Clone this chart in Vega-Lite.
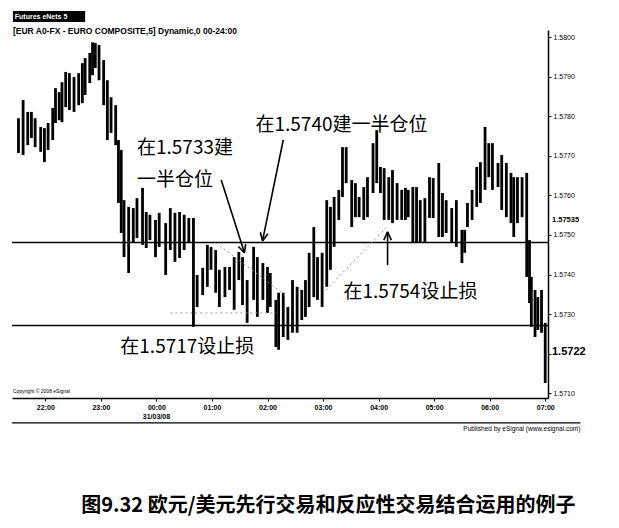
{
 "$schema": "https://vega.github.io/schema/vega-lite/v6.json",
 "width": 536, "height": 368,
 "autosize": "none",
 "padding": {"left": 12, "top": 30, "right": 71, "bottom": 130},
 "background": "white",
 "config": {"view": {"stroke": null}},
 "title": {"text": "图9.32 欧元/美元先行交易和反应性交易结合运用的例子", "orient": "bottom", "anchor": "start", "dx": 70, "offset": 64, "fontSize": 20, "font": "Noto Sans CJK SC", "fontWeight": "bold", "color": "black"},
 "datasets": {
  "bars": [
   {"t":"2008-03-30T21:31","h":1.57795,"l":1.57707},
   {"t":"2008-03-30T21:36","h":1.57841,"l":1.57702},
   {"t":"2008-03-30T21:41","h":1.57811,"l":1.57727},
   {"t":"2008-03-30T21:45","h":1.57811,"l":1.57745},
   {"t":"2008-03-30T21:49","h":1.57795,"l":1.57722},
   {"t":"2008-03-30T21:55","h":1.57773,"l":1.57710},
   {"t":"2008-03-30T21:59","h":1.57770,"l":1.57684},
   {"t":"2008-03-30T22:03","h":1.57783,"l":1.57715},
   {"t":"2008-03-30T22:08","h":1.57821,"l":1.57740},
   {"t":"2008-03-30T22:11","h":1.57871,"l":1.57783},
   {"t":"2008-03-30T22:15","h":1.57861,"l":1.57790},
   {"t":"2008-03-30T22:18","h":1.57886,"l":1.57785},
   {"t":"2008-03-30T22:22","h":1.57912,"l":1.57823},
   {"t":"2008-03-30T22:26","h":1.57909,"l":1.57816},
   {"t":"2008-03-30T22:31","h":1.57899,"l":1.57811},
   {"t":"2008-03-30T22:36","h":1.57909,"l":1.57828},
   {"t":"2008-03-30T22:40","h":1.57934,"l":1.57833},
   {"t":"2008-03-30T22:43","h":1.57947,"l":1.57854},
   {"t":"2008-03-30T22:48","h":1.57960,"l":1.57884},
   {"t":"2008-03-30T22:51","h":1.57987,"l":1.57904},
   {"t":"2008-03-30T22:54","h":1.57985,"l":1.57922},
   {"t":"2008-03-30T22:58","h":1.57980,"l":1.57891},
   {"t":"2008-03-30T23:03","h":1.57942,"l":1.57828},
   {"t":"2008-03-30T23:07","h":1.57891,"l":1.57740},
   {"t":"2008-03-30T23:11","h":1.57848,"l":1.57758},
   {"t":"2008-03-30T23:16","h":1.57828,"l":1.57727},
   {"t":"2008-03-30T23:19","h":1.57740,"l":1.57581},
   {"t":"2008-03-30T23:22","h":1.57715,"l":1.57505},
   {"t":"2008-03-30T23:25","h":1.57588,"l":1.57444},
   {"t":"2008-03-30T23:30","h":1.57571,"l":1.57404},
   {"t":"2008-03-30T23:35","h":1.57568,"l":1.57482},
   {"t":"2008-03-30T23:39","h":1.57593,"l":1.57492},
   {"t":"2008-03-30T23:45","h":1.57619,"l":1.57475},
   {"t":"2008-03-30T23:49","h":1.57558,"l":1.57467},
   {"t":"2008-03-30T23:53","h":1.57551,"l":1.57487},
   {"t":"2008-03-30T23:59","h":1.57538,"l":1.57444},
   {"t":"2008-03-31T00:03","h":1.57556,"l":1.57470},
   {"t":"2008-03-31T00:10","h":1.57530,"l":1.57399},
   {"t":"2008-03-31T00:15","h":1.57568,"l":1.57462},
   {"t":"2008-03-31T00:20","h":1.57556,"l":1.57432},
   {"t":"2008-03-31T00:25","h":1.57558,"l":1.57442},
   {"t":"2008-03-31T00:30","h":1.57551,"l":1.57462},
   {"t":"2008-03-31T00:35","h":1.57543,"l":1.57480},
   {"t":"2008-03-31T00:40","h":1.57543,"l":1.57268},
   {"t":"2008-03-31T00:44","h":1.57399,"l":1.57318},
   {"t":"2008-03-31T00:50","h":1.57417,"l":1.57348},
   {"t":"2008-03-31T00:55","h":1.57475,"l":1.57369},
   {"t":"2008-03-31T00:59","h":1.57470,"l":1.57412},
   {"t":"2008-03-31T01:04","h":1.57462,"l":1.57354},
   {"t":"2008-03-31T01:08","h":1.57412,"l":1.57318},
   {"t":"2008-03-31T01:14","h":1.57419,"l":1.57343},
   {"t":"2008-03-31T01:19","h":1.57419,"l":1.57361},
   {"t":"2008-03-31T01:24","h":1.57444,"l":1.57311},
   {"t":"2008-03-31T01:29","h":1.57457,"l":1.57386},
   {"t":"2008-03-31T01:33","h":1.57444,"l":1.57323},
   {"t":"2008-03-31T01:38","h":1.57386,"l":1.57278},
   {"t":"2008-03-31T01:45","h":1.57470,"l":1.57336},
   {"t":"2008-03-31T01:49","h":1.57444,"l":1.57293},
   {"t":"2008-03-31T01:55","h":1.57429,"l":1.57336},
   {"t":"2008-03-31T02:00","h":1.57419,"l":1.57303},
   {"t":"2008-03-31T02:03","h":1.57404,"l":1.57318},
   {"t":"2008-03-31T02:09","h":1.57336,"l":1.57217},
   {"t":"2008-03-31T02:12","h":1.57354,"l":1.57210},
   {"t":"2008-03-31T02:17","h":1.57354,"l":1.57242},
   {"t":"2008-03-31T02:22","h":1.57318,"l":1.57235},
   {"t":"2008-03-31T02:27","h":1.57386,"l":1.57253},
   {"t":"2008-03-31T02:32","h":1.57369,"l":1.57253},
   {"t":"2008-03-31T02:37","h":1.57361,"l":1.57285},
   {"t":"2008-03-31T02:41","h":1.57386,"l":1.57293},
   {"t":"2008-03-31T02:45","h":1.57455,"l":1.57318},
   {"t":"2008-03-31T02:50","h":1.57520,"l":1.57343},
   {"t":"2008-03-31T02:54","h":1.57444,"l":1.57336},
   {"t":"2008-03-31T02:59","h":1.57455,"l":1.57318},
   {"t":"2008-03-31T03:04","h":1.57588,"l":1.57369},
   {"t":"2008-03-31T03:08","h":1.57571,"l":1.57412},
   {"t":"2008-03-31T03:12","h":1.57596,"l":1.57470},
   {"t":"2008-03-31T03:17","h":1.57614,"l":1.57538},
   {"t":"2008-03-31T03:21","h":1.57722,"l":1.57596},
   {"t":"2008-03-31T03:25","h":1.57722,"l":1.57631},
   {"t":"2008-03-31T03:31","h":1.57639,"l":1.57520},
   {"t":"2008-03-31T03:35","h":1.57631,"l":1.57545},
   {"t":"2008-03-31T03:39","h":1.57596,"l":1.57545},
   {"t":"2008-03-31T03:44","h":1.57621,"l":1.57538},
   {"t":"2008-03-31T03:48","h":1.57646,"l":1.57545},
   {"t":"2008-03-31T03:54","h":1.57732,"l":1.57606},
   {"t":"2008-03-31T03:58","h":1.57765,"l":1.57631},
   {"t":"2008-03-31T04:02","h":1.57672,"l":1.57606},
   {"t":"2008-03-31T04:06","h":1.57669,"l":1.57538},
   {"t":"2008-03-31T04:11","h":1.57646,"l":1.57538},
   {"t":"2008-03-31T04:15","h":1.57664,"l":1.57530},
   {"t":"2008-03-31T04:20","h":1.57631,"l":1.57538},
   {"t":"2008-03-31T04:25","h":1.57614,"l":1.57538},
   {"t":"2008-03-31T04:29","h":1.57619,"l":1.57538},
   {"t":"2008-03-31T04:32","h":1.57614,"l":1.57545},
   {"t":"2008-03-31T04:37","h":1.57621,"l":1.57480},
   {"t":"2008-03-31T04:41","h":1.57621,"l":1.57480},
   {"t":"2008-03-31T04:45","h":1.57588,"l":1.57480},
   {"t":"2008-03-31T04:50","h":1.57593,"l":1.57480},
   {"t":"2008-03-31T04:55","h":1.57646,"l":1.57543},
   {"t":"2008-03-31T04:59","h":1.57644,"l":1.57543},
   {"t":"2008-03-31T05:05","h":1.57682,"l":1.57495},
   {"t":"2008-03-31T05:09","h":1.57606,"l":1.57495},
   {"t":"2008-03-31T05:13","h":1.57588,"l":1.57505},
   {"t":"2008-03-31T05:19","h":1.57568,"l":1.57480},
   {"t":"2008-03-31T05:24","h":1.57588,"l":1.57470},
   {"t":"2008-03-31T05:30","h":1.57513,"l":1.57429},
   {"t":"2008-03-31T05:33","h":1.57513,"l":1.57455},
   {"t":"2008-03-31T05:36","h":1.57581,"l":1.57520},
   {"t":"2008-03-31T05:41","h":1.57614,"l":1.57538},
   {"t":"2008-03-31T05:46","h":1.57672,"l":1.57571},
   {"t":"2008-03-31T05:50","h":1.57684,"l":1.57581},
   {"t":"2008-03-31T05:55","h":1.57773,"l":1.57614},
   {"t":"2008-03-31T05:59","h":1.57732,"l":1.57646},
   {"t":"2008-03-31T06:03","h":1.57732,"l":1.57614},
   {"t":"2008-03-31T06:09","h":1.57682,"l":1.57621},
   {"t":"2008-03-31T06:13","h":1.57702,"l":1.57563},
   {"t":"2008-03-31T06:18","h":1.57682,"l":1.57545},
   {"t":"2008-03-31T06:23","h":1.57657,"l":1.57530},
   {"t":"2008-03-31T06:26","h":1.57646,"l":1.57495},
   {"t":"2008-03-31T06:30","h":1.57646,"l":1.57530},
   {"t":"2008-03-31T06:35","h":1.57646,"l":1.57545},
   {"t":"2008-03-31T06:40","h":1.57657,"l":1.57394},
   {"t":"2008-03-31T06:43","h":1.57487,"l":1.57328},
   {"t":"2008-03-31T06:45","h":1.57394,"l":1.57268},
   {"t":"2008-03-31T06:49","h":1.57361,"l":1.57242},
   {"t":"2008-03-31T06:52","h":1.57343,"l":1.57260},
   {"t":"2008-03-31T06:56","h":1.57361,"l":1.57253},
   {"t":"2008-03-31T07:00","h":1.57278,"l":1.57126}
  ],
  "levels": [{"p": 1.57481}, {"p": 1.57271}],
  "dotted": [
   {"t":"2008-03-31T01:04","t2":"2008-03-31T02:19","p":1.57480,"p2":1.57348},
   {"t":"2008-03-31T03:03","t2":"2008-03-31T04:08","p":1.57361,"p2":1.57518},
   {"t":"2008-03-31T00:15","t2":"2008-03-31T02:09","p":1.57303,"p2":1.57303}
  ],
  "arrows": [
   {"t":"2008-03-31T01:10:00","t2":"2008-03-31T01:35:06","p":1.57639,"p2":1.57455},
   {"t":"2008-03-31T01:28:30","t2":"2008-03-31T01:35:06","p":1.57471,"p2":1.57455},
   {"t":"2008-03-31T01:36:24","t2":"2008-03-31T01:35:06","p":1.57477,"p2":1.57455},
   {"t":"2008-03-31T02:17:00","t2":"2008-03-31T01:54:36","p":1.57740,"p2":1.57485},
   {"t":"2008-03-31T01:52:18","t2":"2008-03-31T01:54:36","p":1.57507,"p2":1.57485},
   {"t":"2008-03-31T02:00:24","t2":"2008-03-31T01:54:36","p":1.57503,"p2":1.57485},
   {"t":"2008-03-31T04:09:42","t2":"2008-03-31T04:09:42","p":1.57424,"p2":1.57508},
   {"t":"2008-03-31T04:13:48","t2":"2008-03-31T04:09:42","p":1.57487,"p2":1.57508},
   {"t":"2008-03-31T04:05:36","t2":"2008-03-31T04:09:42","p":1.57487,"p2":1.57508}
  ],
  "notes": [
   {"t":"2008-03-30T23:39","p":1.57720,"text":"在1.5733建"},
   {"t":"2008-03-30T23:39","p":1.57639,"text":"一半仓位"},
   {"t":"2008-03-31T01:47","p":1.57778,"text":"在1.5740建一半仓位"},
   {"t":"2008-03-31T03:22","p":1.57356,"text":"在1.5754设止损"},
   {"t":"2008-03-30T23:21","p":1.57217,"text":"在1.5717设止损"}
  ],
  "tabbox": [{"t":"2008-03-30T21:25","t2":"2008-03-30T22:43","p":1.58038,"p2":1.58066}],
  "smalltexts": [
   {"t":"2008-03-30T21:25","p":1.58015,"text":"[EUR A0-FX - EURO COMPOSITE,5] Dynamic,0 00-24:00"}
  ],
  "datetext": [{"t":"2008-03-31T00:00","p":1.57040,"text":"31/03/08"}],
  "tabtext": [{"t":"2008-03-30T21:27","p":1.58052,"text":"Futures eNets 5"}],
  "copyrighttext": [{"t":"2008-03-30T21:25","p":1.57106,"text":"Copyright © 2008 eSignal"}],
  "bottomline": [{"t":"2008-03-30T21:24","t2":"2008-03-31T07:38","p":1.57025}],
  "publisher": [{"t":"2008-03-31T07:38","p":1.57018,"text":"Published by eSignal (www.esignal.com)"}],
  "pricetag1": [{"t":"2008-03-31T07:03","p":1.57538,"text":"1.57535"}],
  "pricetag2": [{"t":"2008-03-31T07:03","p":1.57205,"text":"1.5722"}]
 },
 "layer": [
  {
   "data": {"name": "bars"},
   "mark": {"type": "rule", "color": "black", "strokeWidth": 2.8},
   "encoding": {
    "x": {"field": "t", "type": "temporal", "title": null,
     "scale": {"domain": [{"year": 2008, "month": 3, "date": 30, "hours": 21, "minutes": 24}, {"year": 2008, "month": 3, "date": 31, "hours": 7, "minutes": 3}]},
     "axis": {"tickCount": 10, "format": "%H:%M", "grid": false, "domainColor": "black", "domainWidth": 1.5, "tickColor": "black", "tickSize": 3, "labelFontSize": 7, "labelFontWeight": "bold", "labelColor": "black", "labelFont": "Liberation Sans", "labelPadding": 2}},
    "y": {"field": "l", "type": "quantitative", "title": null,
     "scale": {"domain": [1.57088, 1.58018], "zero": false, "nice": false},
     "axis": {"orient": "right", "tickCount": 10, "format": ".4f", "labelExpr": "abs(datum.value - 1.572) < 0.00001 ? '' : datum.label", "grid": false, "domainColor": "black", "domainWidth": 1.5, "tickColor": "black", "tickSize": 3, "labelFontSize": 7, "labelColor": "black", "labelFont": "Liberation Sans", "labelPadding": 2}},
    "y2": {"field": "h"}
   }
  },
  {
   "data": {"name": "levels"},
   "mark": {"type": "rule", "color": "black", "strokeWidth": 1.5},
   "encoding": {"y": {"field": "p", "type": "quantitative", "title": null}}
  },
  {
   "data": {"name": "dotted"},
   "mark": {"type": "rule", "color": "#999999", "strokeWidth": 1, "strokeDash": [2, 3]},
   "encoding": {
    "x": {"field": "t", "type": "temporal", "title": null}, "x2": {"field": "t2"},
    "y": {"field": "p", "type": "quantitative", "title": null}, "y2": {"field": "p2"}
   }
  },
  {
   "data": {"name": "arrows"},
   "mark": {"type": "rule", "color": "black", "strokeWidth": 1.6},
   "encoding": {
    "x": {"field": "t", "type": "temporal", "title": null}, "x2": {"field": "t2"},
    "y": {"field": "p", "type": "quantitative", "title": null}, "y2": {"field": "p2"}
   }
  },
  {
   "data": {"name": "notes"},
   "mark": {"type": "text", "align": "left", "baseline": "middle", "font": "Noto Sans CJK SC", "fontSize": 19, "color": "black"},
   "encoding": {"x": {"field": "t", "type": "temporal", "title": null}, "y": {"field": "p", "type": "quantitative", "title": null}, "text": {"field": "text"}}
  },
  {
   "data": {"name": "tabbox"},
   "mark": {"type": "rect", "color": "black"},
   "encoding": {
    "x": {"field": "t", "type": "temporal", "title": null}, "x2": {"field": "t2"},
    "y": {"field": "p", "type": "quantitative", "title": null}, "y2": {"field": "p2"}
   }
  },
  {
   "data": {"name": "tabtext"},
   "mark": {"type": "text", "align": "left", "baseline": "middle", "font": "Liberation Sans", "fontSize": 7, "fontWeight": "bold", "color": "white"},
   "encoding": {"x": {"field": "t", "type": "temporal", "title": null}, "y": {"field": "p", "type": "quantitative", "title": null}, "text": {"field": "text"}}
  },
  {
   "data": {"name": "smalltexts"},
   "mark": {"type": "text", "align": "left", "baseline": "middle", "font": "Liberation Sans", "fontSize": 8.5, "fontWeight": "bold", "color": "black"},
   "encoding": {"x": {"field": "t", "type": "temporal", "title": null}, "y": {"field": "p", "type": "quantitative", "title": null}, "text": {"field": "text"}}
  },
  {
   "data": {"name": "datetext"},
   "mark": {"type": "text", "align": "center", "baseline": "middle", "font": "Liberation Sans", "fontSize": 7, "fontWeight": "bold", "color": "black"},
   "encoding": {"x": {"field": "t", "type": "temporal", "title": null}, "y": {"field": "p", "type": "quantitative", "title": null}, "text": {"field": "text"}}
  },
  {
   "data": {"name": "copyrighttext"},
   "mark": {"type": "text", "align": "left", "baseline": "middle", "font": "Liberation Sans", "fontSize": 5, "color": "black"},
   "encoding": {"x": {"field": "t", "type": "temporal", "title": null}, "y": {"field": "p", "type": "quantitative", "title": null}, "text": {"field": "text"}}
  },
  {
   "data": {"name": "bottomline"},
   "mark": {"type": "rule", "color": "black", "strokeWidth": 1.2},
   "encoding": {
    "x": {"field": "t", "type": "temporal", "title": null}, "x2": {"field": "t2"},
    "y": {"field": "p", "type": "quantitative", "title": null}
   }
  },
  {
   "data": {"name": "publisher"},
   "mark": {"type": "text", "align": "right", "baseline": "top", "font": "Liberation Sans", "fontSize": 6.5, "color": "black"},
   "encoding": {"x": {"field": "t", "type": "temporal", "title": null}, "y": {"field": "p", "type": "quantitative", "title": null}, "text": {"field": "text"}}
  },
  {
   "data": {"name": "pricetag1"},
   "mark": {"type": "text", "align": "left", "baseline": "middle", "dx": 4, "font": "Liberation Sans", "fontSize": 7.5, "fontWeight": "bold", "color": "black"},
   "encoding": {"x": {"field": "t", "type": "temporal", "title": null}, "y": {"field": "p", "type": "quantitative", "title": null}, "text": {"field": "text"}}
  },
  {
   "data": {"name": "pricetag2"},
   "mark": {"type": "text", "align": "left", "baseline": "middle", "dx": 4, "font": "Liberation Sans", "fontSize": 11, "fontWeight": "bold", "color": "black"},
   "encoding": {"x": {"field": "t", "type": "temporal", "title": null}, "y": {"field": "p", "type": "quantitative", "title": null}, "text": {"field": "text"}}
  }
 ]
}
